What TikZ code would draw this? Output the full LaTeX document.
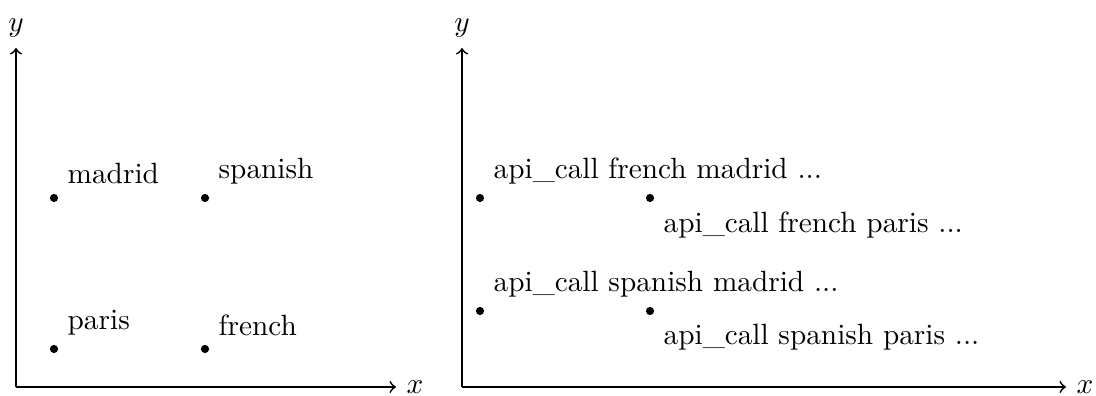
\documentclass[tikz,border=0pt]{standalone}
\usepackage{tikz}
\usetikzlibrary{positioning}

\begin{document}
\begin{tikzpicture}[x=0.012cm,y=0.012cm,>=to,
 pt/.style={circle,fill=black,inner sep=0pt,minimum size=2.8pt},
 axis/.style={->,semithick}]
\useasboundingbox (0,0) rectangle (1096,396);
% word space
\coordinate (o1) at (16,9);
\coordinate (yt1) at (16,348);
\coordinate (xt1) at (396,9);
\draw[axis] (o1)--(yt1) node[above] (ly1) {$y$};
\draw[axis] (o1)--(xt1) node[right] (lx1) {$x$};
\node[pt,label={above right:madrid}] (madrid) at (54,198) {};
\node[pt,label={above right:spanish}] (spanish) at (205,198) {};
\node[pt,label={above right:paris}] (paris) at (54,47) {};
\node[pt,label={above right:french}] (french) at (205,47) {};
% call space
\coordinate (o2) at (462,9);
\coordinate (yt2) at (462,348);
\coordinate (xt2) at (1066,9);
\draw[axis] (o2)--(yt2) node[above] (ly2) {$y$};
\draw[axis] (o2)--(xt2) node[right] (lx2) {$x$};
\node[pt,label={above right:api\_call french madrid ...}] (frma) at (480,198) {};
\node[pt,label={below right:api\_call french paris ...}] (frpa) at (650,198) {};
\node[pt,label={above right:api\_call spanish madrid ...}] (spma) at (480,85) {};
\node[pt,label={below right:api\_call spanish paris ...}] (sppa) at (650,85) {};
\end{tikzpicture}
\end{document}
